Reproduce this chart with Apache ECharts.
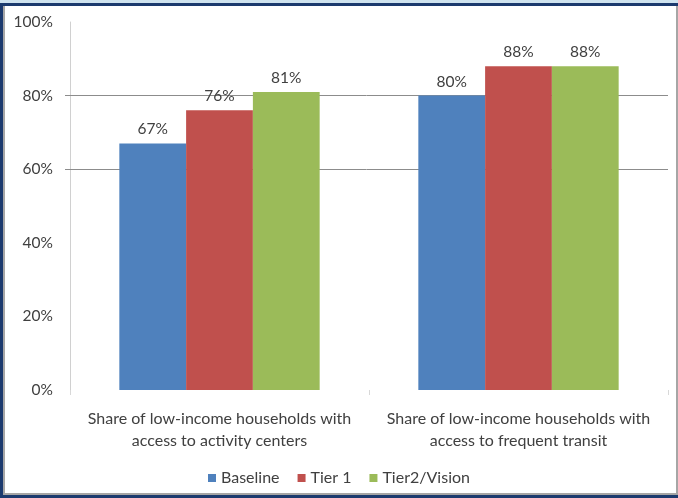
<!DOCTYPE html>
<html>
<head>
<meta charset="utf-8">
<script src="https://cdn.jsdelivr.net/npm/echarts@6/dist/echarts.min.js"></script>
<style>
  html, body { margin: 0; padding: 0; width: 678px; height: 498px; overflow: hidden; background: #1c3a6e; }
  #topstrip { position: absolute; left: 0; top: 0; width: 678px; height: 3px; background: #cfe3ef; }
  #frame { position: absolute; left: 3px; top: 6px; width: 671px; height: 487px; background: #ffffff;
           border-left: 2px solid #a6a6a6; border-right: 2px solid #a6a6a6; border-bottom: 2px solid #a6a6a6; }
  #chart { position: absolute; left: 0; top: 0; width: 678px; height: 498px; }
</style>
</head>
<body>
<div id="topstrip"></div>
<div id="frame"></div>
<div id="chart"></div>
<script>
const categories = [
  'Share of low-income households with\naccess to activity centers',
  'Share of low-income households with\naccess to frequent transit'
];
const seriesNames = ['Baseline', 'Tier 1', 'Tier2/Vision'];
const baseline = [67, 80];
const tier1 = [76, 88];
const tier2Vision = [81, 88];
const yTicks = [0, 20, 40, 60, 80, 100];
const visibleGridValues = [60, 80];

const colors = ['#4f81bd', '#c0504d', '#9bbb59'];
const font = 'Lato, "Open Sans", sans-serif';

const chart = echarts.init(document.getElementById('chart'), null, { renderer: 'canvas' });

function bar(name, data, color) {
  return {
    name: name,
    type: 'bar',
    data: data,
    barGap: '0%',
    barCategoryGap: '33%',
    itemStyle: { color: color },
    label: {
      show: true,
      position: 'top',
      distance: 6,
      formatter: p => p.value + '%',
      color: '#404040',
      fontFamily: font,
      fontSize: 15.5
    }
  };
}

chart.setOption({
  backgroundColor: 'transparent',
  animation: false,
  color: colors,
  grid: { left: 70, right: 10, top: 22, bottom: 108, containLabel: false },
  legend: {
    data: seriesNames,
    top: 465,
    left: 'center',
    itemWidth: 8,
    itemHeight: 8,
    itemGap: 18,
    icon: 'rect',
    textStyle: { color: '#404040', fontFamily: font, fontSize: 16 }
  },
  xAxis: {
    type: 'category',
    data: categories,
    axisLine: { show: false },
    axisTick: { show: true, alignWithLabel: false, length: 5, lineStyle: { color: '#d8d8d8' } },
    axisLabel: {
      color: '#404040', fontFamily: font, fontSize: 16, lineHeight: 22, margin: 18, interval: 0
    },
    splitLine: { show: false }
  },
  yAxis: {
    type: 'value',
    min: 0,
    max: 100,
    interval: 20,
    axisLine: { show: true, lineStyle: { color: '#d0d0d0', width: 1 } },
    axisTick: { show: false },
    axisLabel: {
      formatter: v => yTicks.includes(v) ? v + '%' : '',
      color: '#404040', fontFamily: font, fontSize: 15.5, margin: 17
    },
    splitLine: { show: false }
  },
  series: [
    Object.assign(bar(seriesNames[0], baseline, colors[0]), {
      markLine: {
        silent: true,
        symbol: 'none',
        label: { show: false },
        lineStyle: { color: '#8c8c8c', type: 'solid', width: 1 },
        data: visibleGridValues.map(v => [{ yAxis: v, x: 65 }, { yAxis: v, x: 668 }]),
        z: 1
      }
    }),
    bar(seriesNames[1], tier1, colors[1]),
    bar(seriesNames[2], tier2Vision, colors[2])
  ]
});
</script>
</body>
</html>
